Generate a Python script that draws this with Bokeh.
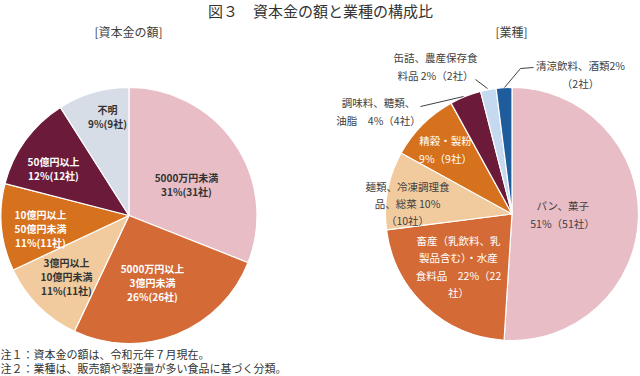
import math
from bokeh.plotting import figure
from bokeh.models import ColumnDataSource, Range1d
from bokeh.core.properties import value
from bokeh.embed import file_html
from bokeh.resources import INLINE

# ---------------- data ----------------
title_text = "図３　資本金の額と業種の構成比"
left_title = "[資本金の額]"
right_title = "[業種]"

cap_names = ["5000万円未満", "5000万円以上\n3億円未満", "3億円以上\n10億円未満",
             "10億円以上\n50億円未満", "50億円以上", "不明"]
cap_pct = [31, 26, 11, 11, 12, 9]
cap_cnt = [31, 26, 11, 11, 12, 9]
cap_colors = ["#E8BDC6", "#D46A36", "#F1CB9E", "#D6711E", "#6B1B39", "#D7DDE6"]
cap_text_colors = ["#333333", "white", "#333333", "white", "white", "#333333"]

ind_names = ["パン、菓子", "畜産（乳飲料、乳製品含む）・水産食料品", "麺類、冷凍調理食品、総菜",
             "精穀・製粉", "調味料、糖類、油脂", "缶詰、農産保存食料品", "清涼飲料、酒類"]
ind_pct = [51, 22, 10, 9, 4, 2, 2]
ind_cnt = [51, 22, 10, 9, 4, 2, 2]
ind_colors = ["#E8BDC6", "#D46A36", "#F1CB9E", "#D6711E", "#6B1B39", "#C5D9F0", "#1F5C9C"]

notes = ["注１：資本金の額は、令和元年７月現在。",
         "注２：業種は、販売額や製造量が多い食品に基づく分類。"]

W, H = 640, 376
def Y(y):
    return H - y

FONT = value("Noto Sans CJK JP")

p = figure(width=W, height=H, x_range=Range1d(0, W), y_range=Range1d(0, H),
           output_backend="svg", toolbar_location=None, min_border=0)
p.axis.visible = False
p.grid.visible = False
p.outline_line_color = None
p.background_fill_color = "white"


def pie(cx, cy, r, vals, colors):
    total = float(sum(vals))
    starts, ends = [], []
    cum = 0.0
    for v in vals:
        starts.append(math.pi / 2 - 2 * math.pi * cum / total)
        cum += v
        ends.append(math.pi / 2 - 2 * math.pi * cum / total)
    src = ColumnDataSource(dict(s=starts, e=ends, c=colors))
    p.wedge(x=cx, y=Y(cy), radius=r, start_angle="s", end_angle="e", direction="clock",
            fill_color="c", line_color="white", line_width=1.2, source=src)


pie(128.5, 215, 128, cap_pct, cap_colors)
pie(511.5, 213.5, 126.5, ind_pct, ind_colors)

# ---------------- titles ----------------
p.text(x=[320], y=[Y(10)], text=[title_text], text_font=FONT, text_font_size="15px",
       text_color="#333333", text_align="center", text_baseline="middle")
p.text(x=[128], y=[Y(31)], text=[left_title], text_font=FONT, text_font_size="12px",
       text_color="#404040", text_align="center", text_baseline="middle")
p.text(x=[511], y=[Y(31)], text=[right_title], text_font=FONT, text_font_size="12px",
       text_color="#404040", text_align="center", text_baseline="middle")

# ---------------- left labels ----------------
cap_label_pos = [(186, 184), (152, 282), (66, 276), (40, 228), (53, 168), (107, 116)]
cap_labels = [f"{n}\n{v}%({c}社)" for n, v, c in zip(cap_names, cap_pct, cap_cnt)]
p.text(x=[q[0] for q in cap_label_pos], y=[Y(q[1]) for q in cap_label_pos],
       text=cap_labels, text_color=cap_text_colors, text_font=FONT,
       text_font_size="10px", text_font_style="bold", text_align="center",
       text_baseline="middle", text_line_height=0.93)

# ---------------- right labels ----------------
ind_labels = [
    f"パン、菓子\n{ind_pct[0]}%（{ind_cnt[0]}社）",
    f"畜産（乳飲料、乳\n製品含む）・水産\n食料品　{ind_pct[1]}%（{ind_cnt[1]}\n社）",
    f"麺類、冷凍調理食\n品、総菜 {ind_pct[2]}%\n（{ind_cnt[2]}社）",
    f"精穀・製粉\n{ind_pct[3]}%（{ind_cnt[3]}社）",
    f"調味料、糖類、\n油脂　{ind_pct[4]}%（{ind_cnt[4]}社）",
    f"缶詰、農産保存食\n料品 {ind_pct[5]}%（{ind_cnt[5]}社）",
    f"清涼飲料、酒類{ind_pct[6]}%\n（{ind_cnt[6]}社）",
]
ind_label_pos = [(562, 214), (458, 266), (407, 203), (445, 149), (378, 111), (435, 66), (580, 74)]
ind_text_colors = ["#404040", "white", "#404040", "white", "#404040", "#404040", "#404040"]
p.text(x=[q[0] for q in ind_label_pos], y=[Y(q[1]) for q in ind_label_pos],
       text=ind_labels, text_color=ind_text_colors, text_font=FONT,
       text_font_size="10.5px", text_align="center", text_baseline="middle",
       text_line_height=1.15)

# leader lines
leaders_x = [[420, 463], [475, 487], [504, 520, 533]]
leaders_y = [[106, 96], [79, 88], [87, 68, 67]]
p.multi_line(xs=leaders_x, ys=[[Y(v) for v in ys] for ys in leaders_y],
             line_color="#404040", line_width=1)

# ---------------- notes ----------------
p.text(x=[0, 0], y=[Y(353), Y(367)], text=notes, text_font=FONT, text_font_size="11px",
       text_color="#333333", text_align="left", text_baseline="middle")

open("out.html", "w").write(file_html(p, INLINE))
